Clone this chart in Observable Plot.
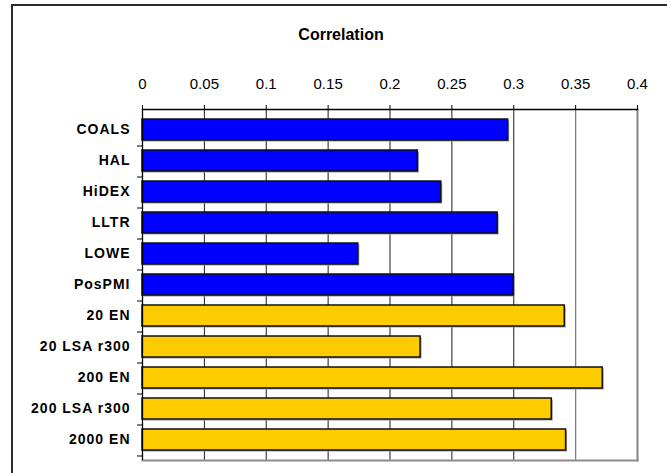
<!DOCTYPE html>
<html>
<head>
<meta charset="utf-8">
<script src="https://cdn.jsdelivr.net/npm/d3@7"></script>
<script src="https://cdn.jsdelivr.net/npm/@observablehq/plot@0.6"></script>
<style>
  html, body { margin: 0; padding: 0; background: #fff; overflow: hidden; }
  #wrap { position: relative; width: 667px; height: 473px; overflow: hidden; }
  #border { position: absolute; left: 11px; top: 4px; width: 800px; height: 600px;
            border-left: 2px solid #2a2a2a; border-top: 2px solid #2a2a2a; pointer-events: none; }
  svg { display: block; }
  g[aria-label="y-axis tick label"] text { letter-spacing: 1px; }
</style>
</head>
<body>
<div id="wrap"><div id="border"></div></div>
<script>
const categories = ["COALS", "HAL", "HiDEX", "LLTR", "LOWE", "PosPMI", "20 EN", "20 LSA r300", "200 EN", "200 LSA r300", "2000 EN"];
const values = [0.2955, 0.2225, 0.2414, 0.287, 0.1744, 0.300, 0.3412, 0.2247, 0.3719, 0.3307, 0.3423];
const groups = ["model", "model", "model", "model", "model", "model", "ours", "ours", "ours", "ours", "ours"];
const xTicks = [0, 0.05, 0.1, 0.15, 0.2, 0.25, 0.3, 0.35, 0.4];
const darkGrid = [0.05, 0.1, 0.15, 0.2, 0.25, 0.3];
const lightGrid = [0.35, 0.4];
const title = "Correlation";

const data = categories.map((c, i) => ({ name: c, value: values[i], group: groups[i] }));
const font = "'Liberation Sans', Arial, sans-serif";

const chart = Plot.plot({
  width: 667,
  height: 473,
  marginLeft: 142,
  marginRight: 30,
  marginTop: 109,
  marginBottom: 13,
  style: { fontFamily: font, fontSize: "12px", color: "#000", background: "transparent" },
  x: { domain: [0, 0.4], axis: null, label: null },
  y: { domain: categories, paddingInner: 0.31, paddingOuter: 0.155, axis: null, label: null },
  color: { domain: ["model", "ours"], range: ["#0000FF", "#FFCC00"] },
  marks: [
    Plot.ruleX(darkGrid, { stroke: "#1a1a1a", strokeWidth: 1, strokeOpacity: 1 }),
    Plot.ruleX(lightGrid, { stroke: "#808080", strokeWidth: 1.3, strokeOpacity: 1 }),
    Plot.frame({ anchor: "bottom", stroke: "#8c8c8c", strokeWidth: 2 }),
    Plot.frame({ anchor: "right", stroke: "#8c8c8c", strokeWidth: 2 }),
    Plot.barX(data, { x: "value", y: "name", fill: "#9a9a9a", dx: 1.5, dy: 1.5 }),
    Plot.barX(data, { x: "value", y: "name", fill: "group", stroke: "#111", strokeWidth: 1.5 }),
    Plot.ruleX([0], { stroke: "#000", strokeWidth: 1.3 }),
    Plot.frame({ anchor: "top", stroke: "#000", strokeWidth: 1.3 }),
    Plot.axisX(xTicks, { anchor: "top", label: null, tickSize: 5, tickPadding: 16, tickFormat: d => String(d), fontSize: 15, stroke: "#000", fill: "#000" }),
    Plot.axisY({ anchor: "left", label: null, tickSize: 0, tickPadding: 12, fontWeight: "bold", fontSize: 14, fill: "#000" }),
    Plot.axisY({ anchor: "left", label: null, tickSize: 5, tickFormat: () => "", dy: 16, stroke: "#000" }),
    Plot.text([title], { frameAnchor: "top", dx: -49, dy: -81, fontWeight: "bold", fontSize: 16, fill: "#000" })
  ]
});
document.getElementById("wrap").appendChild(chart);
</script>
</body>
</html>
